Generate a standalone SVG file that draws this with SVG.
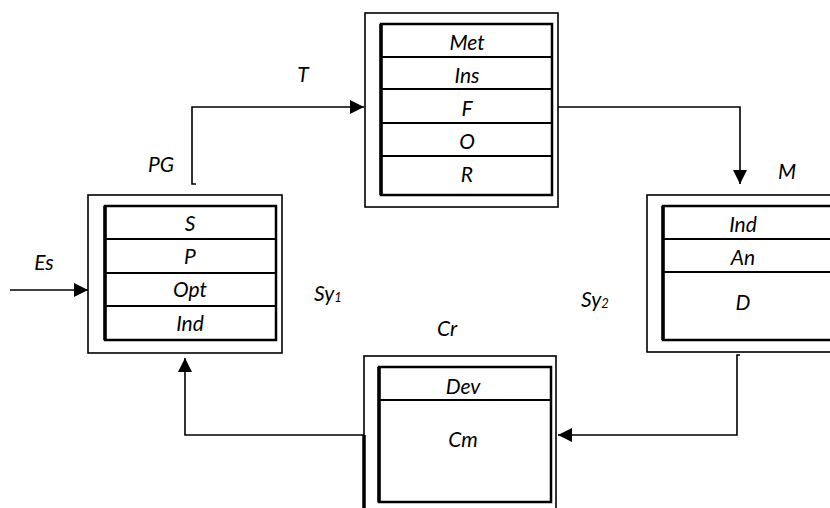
<svg xmlns="http://www.w3.org/2000/svg" width="830" height="508" viewBox="0 0 830 508">
<defs>
<style>
.outer{fill:#fff;stroke:#000;stroke-width:1.6}
.inner{fill:#fff;stroke:#000;stroke-width:2.5}
.div{stroke:#000;stroke-width:2}
.thick{stroke:#000;stroke-width:3.5}
.conn{fill:none;stroke:#000;stroke-width:1.6}
text{font-family:Lato,"Open Sans","DejaVu Sans",sans-serif;font-style:italic;font-size:21px;fill:#000}
.c{text-anchor:middle}
.sub{font-size:13px}
</style>
<marker id="ah" viewBox="0 0 10 10" refX="10" refY="5" markerWidth="14" markerHeight="14" markerUnits="userSpaceOnUse" orient="auto">
<path d="M0,0 L10,5 L0,10 z" fill="#000"/>
</marker>
</defs>

<g id="connectors">
<path class="conn" d="M10,290 H88" marker-end="url(#ah)"/>
<path class="conn" d="M196,184 H192 V107 H364" marker-end="url(#ah)"/>
<path class="conn" d="M558,107 H740 V184" marker-end="url(#ah)"/>
<path class="conn" d="M740,355 H737 V435 H558" marker-end="url(#ah)"/>
<path class="conn" d="M364,435 H185 V358" marker-end="url(#ah)"/>
</g>

<g id="node-pg">
<rect class="outer" x="88" y="195" width="194" height="158"/>
<rect class="inner" x="105" y="206" width="171" height="134"/>
<line class="thick" x1="105" y1="206" x2="105" y2="340"/>
<line class="div" x1="105" y1="239" x2="276" y2="239"/>
<line class="div" x1="105" y1="273" x2="276" y2="273"/>
<line class="div" x1="105" y1="306" x2="276" y2="306"/>
<text class="c" x="190" y="231">S</text>
<text class="c" x="190" y="264">P</text>
<text class="c" x="190" y="297">Opt</text>
<text class="c" x="190" y="331">Ind</text>
</g>

<g id="node-t">
<rect class="outer" x="365" y="13" width="193" height="194"/>
<rect class="inner" x="381" y="24" width="171" height="171"/>
<line class="thick" x1="381" y1="24" x2="381" y2="195"/>
<line class="div" x1="381" y1="57" x2="552" y2="57"/>
<line class="div" x1="381" y1="89" x2="552" y2="89"/>
<line class="div" x1="381" y1="123" x2="552" y2="123"/>
<line class="div" x1="381" y1="156" x2="552" y2="156"/>
<text class="c" x="467" y="50">Met</text>
<text class="c" x="467" y="83">Ins</text>
<text class="c" x="467" y="116">F</text>
<text class="c" x="467" y="149">O</text>
<text class="c" x="467" y="182">R</text>
</g>

<g id="node-m">
<rect class="outer" x="647" y="195" width="200" height="157"/>
<rect class="inner" x="663" y="206" width="180" height="134"/>
<line class="thick" x1="663" y1="206" x2="663" y2="340"/>
<line class="div" x1="663" y1="239" x2="843" y2="239"/>
<line class="div" x1="663" y1="272" x2="843" y2="272"/>
<text class="c" x="743" y="232">Ind</text>
<text class="c" x="743" y="265">An</text>
<text class="c" x="743" y="310">D</text>
</g>

<g id="node-cr">
<rect class="outer" x="364" y="356" width="192" height="170"/>
<rect class="inner" x="379" y="367" width="172" height="135"/>
<line class="thick" x1="364" y1="435" x2="364" y2="508"/>
<line class="thick" x1="379" y1="367" x2="379" y2="502"/>
<line class="div" x1="379" y1="400" x2="551" y2="400"/>
<text class="c" x="463" y="394">Dev</text>
<text class="c" x="463" y="447">Cm</text>
</g>

<g id="labels">
<text class="c" x="303" y="82">T</text>
<text class="c" x="161" y="172">PG</text>
<text class="c" x="787" y="179">M</text>
<text class="c" x="44" y="270">Es</text>
<text x="314" y="301">Sy<tspan class="sub" dy="1">1</tspan></text>
<text x="581" y="307">Sy<tspan class="sub" dy="1">2</tspan></text>
<text class="c" x="447" y="336">Cr</text>
</g>
</svg>
